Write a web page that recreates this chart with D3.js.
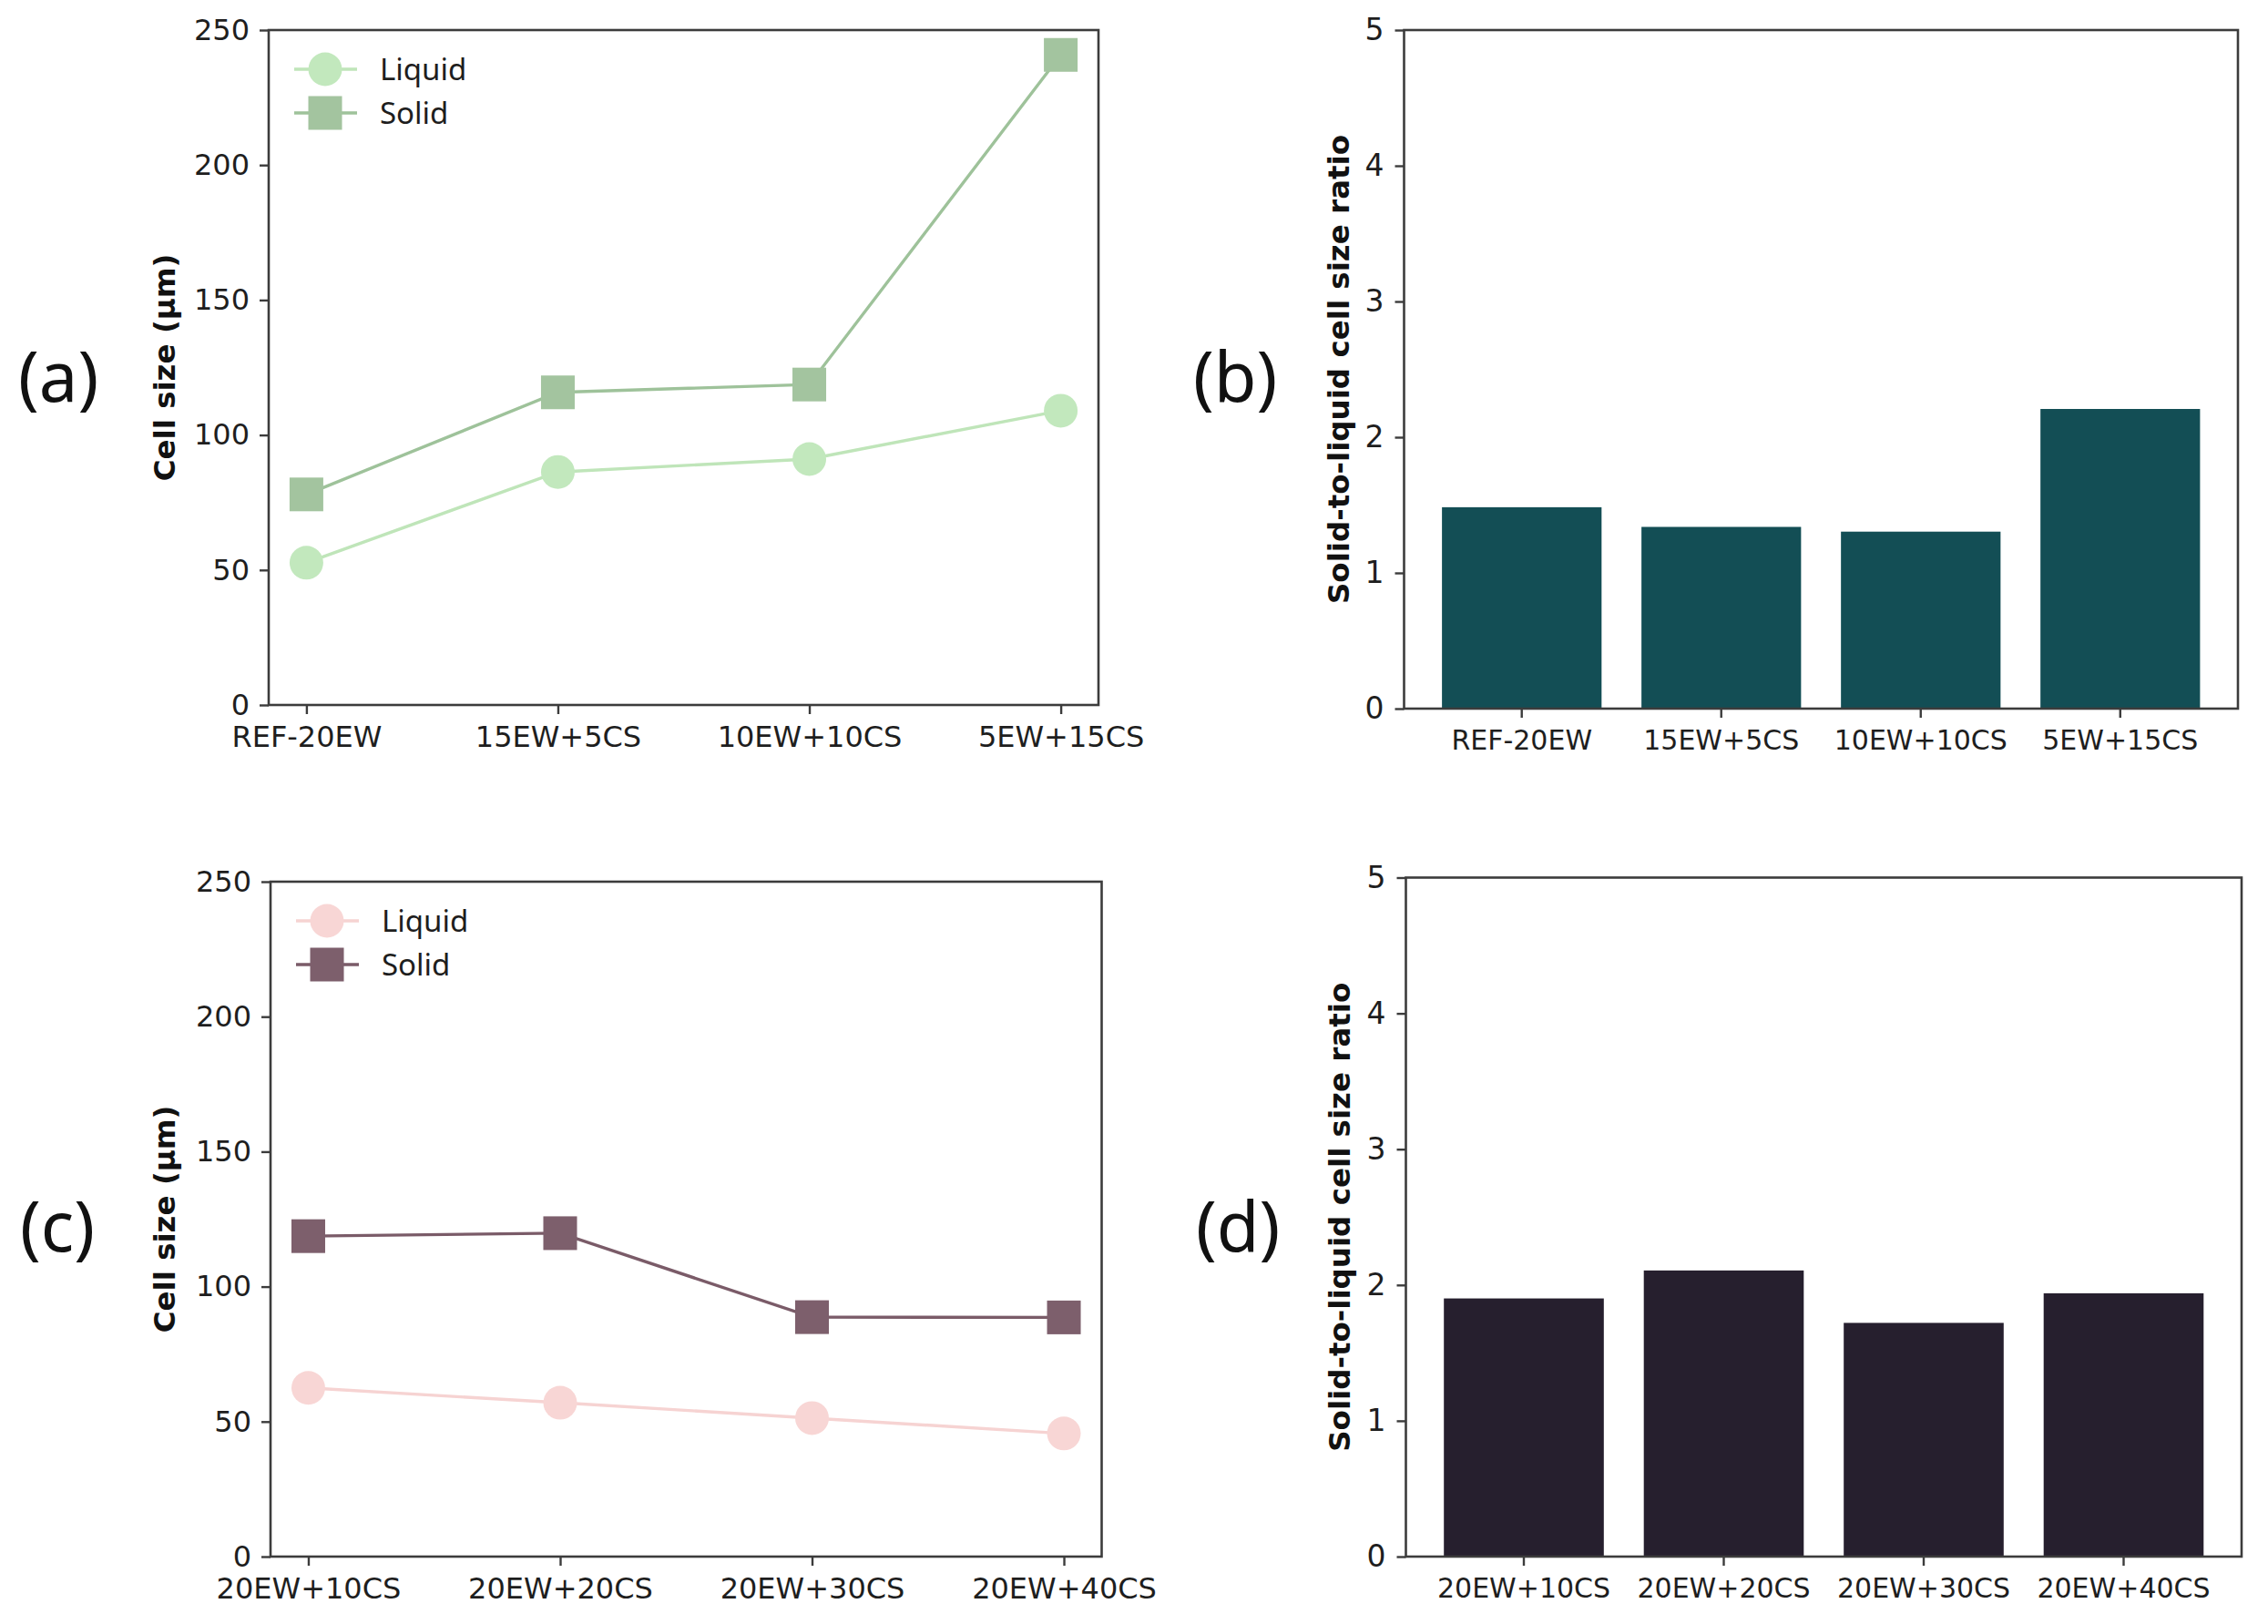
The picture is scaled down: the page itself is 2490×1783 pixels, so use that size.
<!DOCTYPE html>
<html>
<head>
<meta charset="utf-8">
<script src="https://cdn.jsdelivr.net/npm/d3@7"></script>
<style>
  html, body { margin: 0; padding: 0; background: #fff; }
  svg { display: block; }
</style>
</head>
<body>
<svg id="chart" width="2490" height="1783"></svg>
<script>
// ---------------- data ----------------
const catsTop = ["REF-20EW", "15EW+5CS", "10EW+10CS", "5EW+15CS"];
const catsBottom = ["20EW+10CS", "20EW+20CS", "20EW+30CS", "20EW+40CS"];

const liquidA = [52.7, 86.3, 91.1, 109.0];
const solidA  = [78.0, 115.8, 118.7, 240.8];
const ratioB  = [1.484, 1.339, 1.304, 2.208];

const liquidC = [62.5, 57.0, 51.3, 45.6];
const solidC  = [118.7, 119.8, 88.7, 88.6];
const ratioD  = [1.901, 2.107, 1.721, 1.939];

const cellTicks  = [0, 50, 100, 150, 200, 250];
const ratioTicks = [0, 1, 2, 3, 4, 5];
const seriesNames = ["Liquid", "Solid"];

// ---------------- style ----------------
const AXIS_COLOR = "#3c3c3c";
const TEXT_COLOR = "#1e1e1e";
const TICK_FONT = "'DejaVu Sans', sans-serif";
const LEGEND_FONT = "'Noto Sans', sans-serif";

const svg = d3.select("#chart");

function drawFrame(g, x0, x1, y0, y1) {
  g.append("rect")
    .attr("x", x0).attr("y", y0)
    .attr("width", x1 - x0).attr("height", y1 - y0)
    .attr("fill", "none")
    .attr("stroke", AXIS_COLOR)
    .attr("stroke-width", 2.6);
}

function styleAxis(sel, fontSize) {
  sel.select(".domain").remove();
  sel.selectAll(".tick line").attr("stroke", AXIS_COLOR).attr("stroke-width", 2.4);
  sel.selectAll(".tick text")
    .attr("fill", TEXT_COLOR)
    .style("font-family", TICK_FONT)
    .style("font-size", fontSize + "px");
}

function yLabel(text, x, yc) {
  svg.append("text")
    .attr("transform", `translate(${x},${yc}) rotate(-90)`)
    .attr("text-anchor", "middle")
    .attr("fill", "#111")
    .style("font-family", TICK_FONT)
    .style("font-weight", "bold")
    .style("font-size", "32.5px")
    .text(text);
}

function panelLabel(text, x, y) {
  svg.append("text")
    .attr("x", x).attr("y", y)
    .attr("fill", "#111")
    .style("font-family", LEGEND_FONT)
    .style("font-weight", 400)
    .style("font-size", "76px")
    .text(text);
}

function linePanel(box, cats, liquid, solid, colors) {
  const g = svg.append("g");
  const x = d3.scalePoint().domain(cats).range([box.l, box.r]).padding(0.15);
  const y = d3.scaleLinear().domain([0, 250]).range([box.b, box.t]);

  const xa = g.append("g").attr("transform", `translate(0,${box.b})`)
    .call(d3.axisBottom(x).tickSize(10).tickPadding(13));
  styleAxis(xa, 32);
  const ya = g.append("g").attr("transform", `translate(${box.l},0)`)
    .call(d3.axisLeft(y).tickValues(cellTicks).tickFormat(d3.format("d")).tickSize(10).tickPadding(11));
  styleAxis(ya, 32);

  const series = [
    { name: seriesNames[0], vals: liquid, color: colors[0], lineColor: colors[2], shape: "circle" },
    { name: seriesNames[1], vals: solid, color: colors[1], lineColor: colors[3], shape: "square" }
  ];
  const line = d3.line().x((d, i) => x(cats[i])).y(d => y(d));
  const S = 37;

  series.forEach(s => {
    g.append("path").datum(s.vals)
      .attr("d", line)
      .attr("fill", "none")
      .attr("stroke", s.lineColor)
      .attr("stroke-width", 3.4);
    if (s.shape === "circle") {
      g.selectAll(null).data(s.vals).enter().append("circle")
        .attr("cx", (d, i) => x(cats[i])).attr("cy", d => y(d))
        .attr("r", S / 2).attr("fill", s.color);
    } else {
      g.selectAll(null).data(s.vals).enter().append("rect")
        .attr("x", (d, i) => x(cats[i]) - S / 2).attr("y", d => y(d) - S / 2)
        .attr("width", S).attr("height", S).attr("fill", s.color);
    }
  });

  // legend
  series.forEach((s, i) => {
    const cy = box.t + 43 + i * 48;
    const cx = box.l + 62;
    g.append("line").attr("x1", cx - 34).attr("x2", cx + 35)
      .attr("y1", cy).attr("y2", cy)
      .attr("stroke", s.lineColor).attr("stroke-width", 3.4);
    if (s.shape === "circle") {
      g.append("circle").attr("cx", cx).attr("cy", cy).attr("r", S / 2).attr("fill", s.color);
    } else {
      g.append("rect").attr("x", cx - S / 2).attr("y", cy - S / 2)
        .attr("width", S).attr("height", S).attr("fill", s.color);
    }
    g.append("text").attr("x", cx + 60).attr("y", cy + 12)
      .attr("fill", TEXT_COLOR)
      .style("font-family", LEGEND_FONT)
      .style("font-size", "33px")
      .text(s.name);
  });

  drawFrame(g, box.l, box.r, box.t, box.b);
}

function barPanel(box, cats, vals, color) {
  const g = svg.append("g");
  const x = d3.scaleBand().domain(cats).range([box.l, box.r])
    .paddingInner(0.2).paddingOuter(0.19);
  const y = d3.scaleLinear().domain([0, 5]).range([box.b, box.t]);

  g.selectAll(null).data(vals).enter().append("rect")
    .attr("x", (d, i) => x(cats[i]))
    .attr("width", x.bandwidth())
    .attr("y", d => y(d))
    .attr("height", d => box.b - y(d))
    .attr("fill", color);

  const xa = g.append("g").attr("transform", `translate(0,${box.b})`)
    .call(d3.axisBottom(x).tickSize(10).tickPadding(14));
  styleAxis(xa, 30);
  const ya = g.append("g").attr("transform", `translate(${box.l},0)`)
    .call(d3.axisLeft(y).tickValues(ratioTicks).tickFormat(d3.format("d")).tickSize(10).tickPadding(12));
  styleAxis(ya, 33);

  drawFrame(g, box.l, box.r, box.t, box.b);
}

// ---------------- layout ----------------
const boxA = { l: 295, r: 1206, t: 33, b: 774 };
const boxB = { l: 1541.5, r: 2457, t: 33, b: 778 };
const boxC = { l: 297, r: 1209.5, t: 968, b: 1709 };
const boxD = { l: 1543.5, r: 2461, t: 963.5, b: 1709 };

linePanel(boxA, catsTop, liquidA, solidA, ["#c2e8bd", "#a3c49f", "#bfe5b9", "#9ec29a"]);
barPanel(boxB, catsTop, ratioB, "#134e55");
linePanel(boxC, catsBottom, liquidC, solidC, ["#f8d6d5", "#7d5f6c", "#f6d3d2", "#7a5b68"]);
barPanel(boxD, catsBottom, ratioD, "#261f2e");

yLabel("Cell size (μm)", 192, (boxA.t + boxA.b) / 2);
yLabel("Solid-to-liquid cell size ratio", 1481, (boxB.t + boxB.b) / 2);
yLabel("Cell size (μm)", 192, (boxC.t + boxC.b) / 2);
yLabel("Solid-to-liquid cell size ratio", 1482, (boxD.t + boxD.b) / 2);

panelLabel("(a)", 20, 441);
panelLabel("(b)", 1310, 441);
panelLabel("(c)", 22, 1374);
panelLabel("(d)", 1313, 1374);
</script>
</body>
</html>
